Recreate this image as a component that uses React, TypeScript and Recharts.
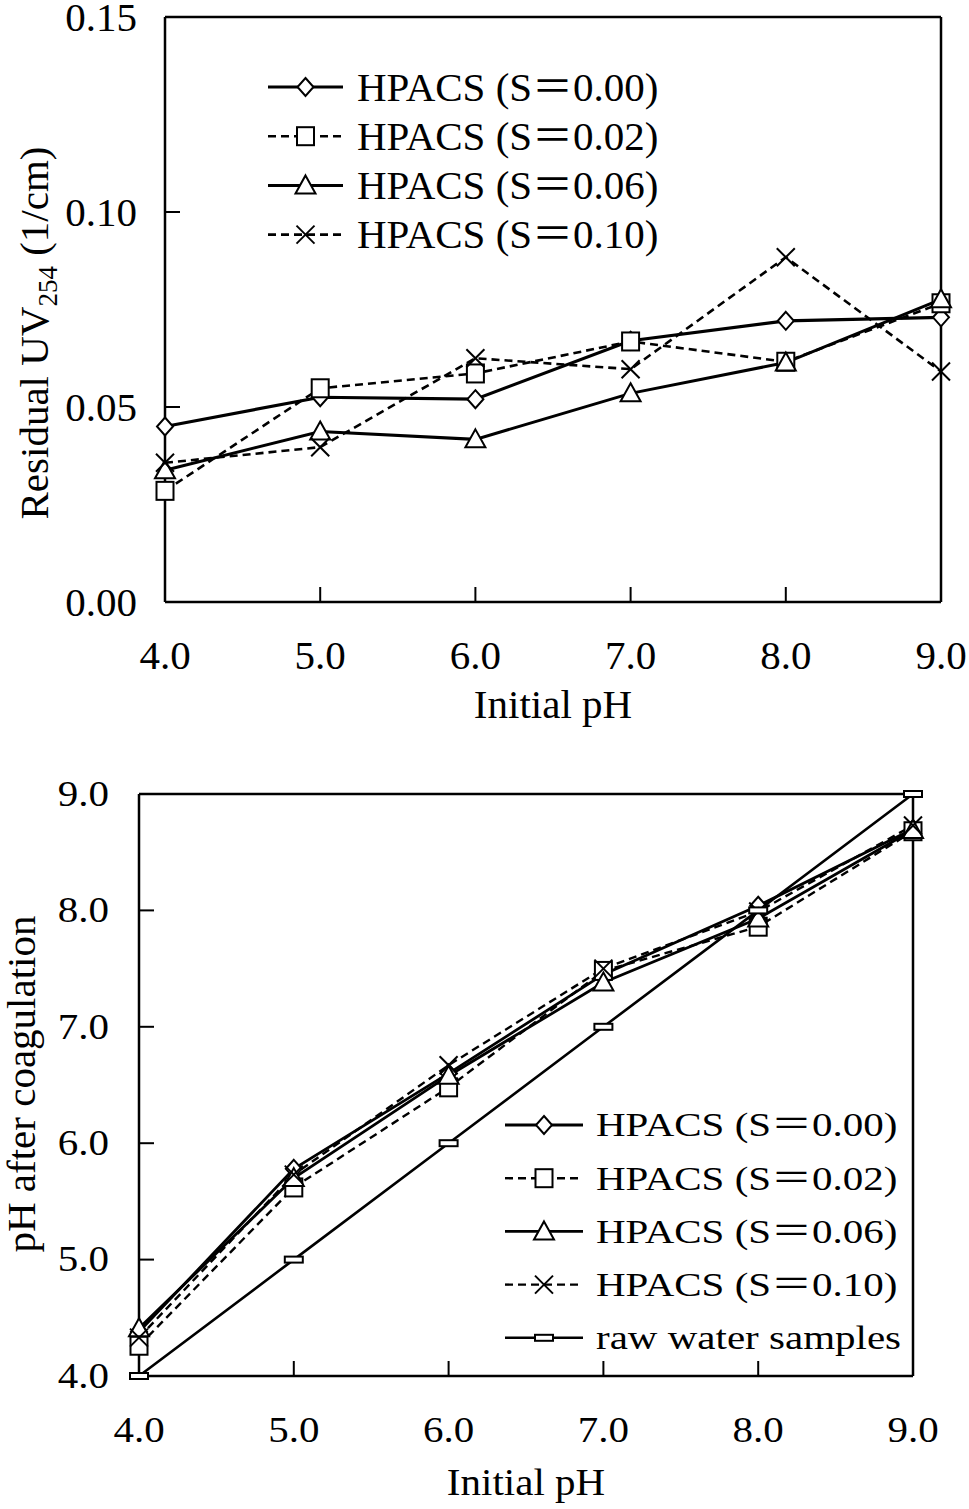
import React from "react";
import {
  LineChart,
  Line,
  XAxis,
  YAxis,
  Legend,
  ReferenceLine,
  Label,
} from "recharts";

const FONT = "'Liberation Serif', 'Times New Roman', 'Noto Sans CJK SC', serif";

// x axis of both panels
const initialPh = [4.0, 5.0, 6.0, 7.0, 8.0, 9.0];
const uvTicks = [0, 0.05, 0.1, 0.15];
const phAfterTicks = [4.0, 5.0, 6.0, 7.0, 8.0, 9.0];

const seriesNames = [
  "HPACS (S＝0.00)",
  "HPACS (S＝0.02)",
  "HPACS (S＝0.06)",
  "HPACS (S＝0.10)",
  "raw water samples",
];

// top panel: residual UV254 (1/cm)
const uvS000 = [0.045, 0.0525, 0.052, 0.067, 0.0721, 0.073];
const uvS002 = [0.0285, 0.0548, 0.0586, 0.0668, 0.0616, 0.0766];
const uvS006 = [0.0338, 0.0437, 0.0417, 0.0535, 0.0614, 0.0776];
const uvS010 = [0.0357, 0.0397, 0.0625, 0.0597, 0.0884, 0.0591];

// bottom panel: pH after coagulation
const phS000 = [4.38, 5.78, 6.6, 7.45, 8.04, 8.7];
const phS002 = [4.26, 5.62, 6.48, 7.48, 7.86, 8.68];
const phS006 = [4.41, 5.7, 6.58, 7.38, 7.93, 8.69];
const phS010 = [4.33, 5.73, 6.67, 7.5, 7.99, 8.73];
const phRaw = [4.0, 5.0, 6.0, 7.0, 8.0, 9.0];

const uvRows = initialPh.map((ph, i) => ({
  ph,
  s000: uvS000[i],
  s002: uvS002[i],
  s006: uvS006[i],
  s010: uvS010[i],
}));

const phRows = initialPh.map((ph, i) => ({
  ph,
  s000: phS000[i],
  s002: phS002[i],
  s006: phS006[i],
  s010: phS010[i],
  raw: phRaw[i],
}));

type Kind = "diamond" | "square" | "triangle" | "cross" | "bar";

type SeriesStyle = {
  key: string;
  name: string;
  marker: Kind;
  dash?: string;
  width: number;
};

const topSeries: SeriesStyle[] = [
  { key: "s000", name: seriesNames[0], marker: "diamond", width: 3.2 },
  { key: "s002", name: seriesNames[1], marker: "square", dash: "8 5", width: 2.6 },
  { key: "s006", name: seriesNames[2], marker: "triangle", width: 3 },
  { key: "s010", name: seriesNames[3], marker: "cross", dash: "8 5", width: 2.6 },
];

const bottomSeries: SeriesStyle[] = [
  { key: "s000", name: seriesNames[0], marker: "diamond", width: 2.8 },
  { key: "s002", name: seriesNames[1], marker: "square", dash: "8 5", width: 2.4 },
  { key: "s006", name: seriesNames[2], marker: "triangle", width: 2.8 },
  { key: "s010", name: seriesNames[3], marker: "cross", dash: "8 5", width: 2.4 },
  { key: "raw", name: seriesNames[4], marker: "bar", width: 2.6 },
];

function Marker({ kind, cx, cy }: { kind: Kind; cx?: number; cy?: number }) {
  if (cx == null || cy == null) return null;
  const st = { fill: "#fff", stroke: "#000", strokeWidth: 2 };
  switch (kind) {
    case "diamond":
      return (
        <polygon
          points={`${cx},${cy - 9} ${cx + 8},${cy} ${cx},${cy + 9} ${cx - 8},${cy}`}
          {...st}
        />
      );
    case "square":
      return <rect x={cx - 8.5} y={cy - 9} width={17} height={18} {...st} />;
    case "triangle":
      return (
        <polygon
          points={`${cx},${cy - 10} ${cx + 10},${cy + 8} ${cx - 10},${cy + 8}`}
          {...st}
        />
      );
    case "cross":
      return (
        <g stroke="#000" strokeWidth={2}>
          <line x1={cx - 9} y1={cy - 9} x2={cx + 9} y2={cy + 9} />
          <line x1={cx - 9} y1={cy + 9} x2={cx + 9} y2={cy - 9} />
        </g>
      );
    default:
      return <rect x={cx - 9} y={cy - 3} width={18} height={6} {...st} />;
  }
}

function LegendRows({
  rows,
  top,
  rowH,
  lineX1,
  lineX2,
  textX,
  size,
  sy,
}: {
  rows: SeriesStyle[];
  top: number;
  rowH: number;
  lineX1: number;
  lineX2: number;
  textX: number;
  size: number;
  sy: number;
}) {
  const mx = (lineX1 + lineX2) / 2;
  return (
    <svg
      width={440}
      height={top + rowH * rows.length}
      style={{ display: "block", overflow: "visible" }}
    >
      {rows.map((r, i) => {
        const y = top + i * rowH;
        return (
          <g key={r.key}>
            <line
              x1={lineX1}
              x2={lineX2}
              y1={y}
              y2={y}
              stroke="#000"
              strokeWidth={r.width}
              strokeDasharray={r.dash}
            />
            <Marker kind={r.marker} cx={mx} cy={y} />
            <text
              transform={`translate(${textX},${y + 0.33 * size * sy}) scale(1,${sy})`}
              fontSize={size}
              fontFamily={FONT}
              fill="#000"
            >
              {r.name}
            </text>
          </g>
        );
      })}
    </svg>
  );
}

function makeXTick(size: number, sy: number) {
  return (p: any) => (
    <text
      transform={`translate(${p.x},${p.y + 0.7 * size * sy}) scale(1,${sy})`}
      textAnchor="middle"
      fontSize={size}
      fontFamily={FONT}
      fill="#000"
    >
      {Number(p.payload.value).toFixed(1)}
    </text>
  );
}

function makeYTick(size: number, sy: number, digits: number) {
  return (p: any) => (
    <text
      transform={`translate(${p.x},${p.y + 0.34 * size * sy}) scale(1,${sy})`}
      textAnchor="end"
      fontSize={size}
      fontFamily={FONT}
      fill="#000"
    >
      {Number(p.payload.value).toFixed(digits)}
    </text>
  );
}

const axisLine = { stroke: "#000", strokeWidth: 2.5 };
const tickLine = { stroke: "#000", strokeWidth: 2 };

function UvPanel() {
  return (
    <LineChart
      width={969}
      height={740}
      data={uvRows}
      margin={{ top: 17, right: 28, bottom: 137, left: 164 }}
    >
      <XAxis
        dataKey="ph"
        type="number"
        domain={[4, 9]}
        ticks={initialPh}
        interval={0}
        height={1}
        axisLine={axisLine}
        tickLine={tickLine}
        tickSize={-15}
        tickMargin={53}
        tick={makeXTick(41, 1)}
      >
        <Label
          content={() => (
            <text x={553} y={718} textAnchor="middle" fontSize={41} fontFamily={FONT} fill="#000">
              Initial pH
            </text>
          )}
        />
      </XAxis>
      <YAxis
        type="number"
        domain={[0, 0.15]}
        ticks={uvTicks}
        interval={0}
        width={1}
        axisLine={axisLine}
        tickLine={tickLine}
        tickSize={-15}
        tickMargin={43}
        tick={makeYTick(41, 1, 2)}
      >
        <Label
          content={() => (
            <text
              transform="rotate(-90)"
              x={-333}
              y={48}
              textAnchor="middle"
              fontSize={41}
              fontFamily={FONT}
              fill="#000"
            >
              <tspan>Residual UV</tspan>
              <tspan fontSize={27} dy={9}>254</tspan>
              <tspan dy={-9}>{" (1/cm)"}</tspan>
            </text>
          )}
        />
      </YAxis>
      <ReferenceLine y={0.15} stroke="#000" strokeWidth={2.5} />
      <ReferenceLine x={9} stroke="#000" strokeWidth={2.5} />
      <Legend
        layout="vertical"
        align="center"
        verticalAlign="middle"
        wrapperStyle={{ left: 262, top: 60, width: 440, height: 230 }}
        content={() => (
          <LegendRows
            rows={topSeries}
            top={27}
            rowH={49.2}
            lineX1={6}
            lineX2={81}
            textX={95}
            size={41}
            sy={1}
          />
        )}
      />
      {topSeries.map((s) => (
        <Line
          key={s.key}
          dataKey={s.key}
          name={s.name}
          type="linear"
          stroke="#000"
          strokeWidth={s.width}
          strokeDasharray={s.dash}
          dot={(p: any) => <Marker key={`${s.key}-${p.index}`} kind={s.marker} cx={p.cx} cy={p.cy} />}
          activeDot={false}
          isAnimationActive={false}
        />
      ))}
    </LineChart>
  );
}

function PhPanel() {
  return (
    <LineChart
      width={969}
      height={769}
      data={phRows}
      margin={{ top: 54, right: 56, bottom: 132, left: 138 }}
    >
      <XAxis
        dataKey="ph"
        type="number"
        domain={[4, 9]}
        ticks={initialPh}
        interval={0}
        height={1}
        axisLine={axisLine}
        tickLine={tickLine}
        tickSize={-15}
        tickMargin={57}
        tick={makeXTick(41, 0.85)}
      >
        <Label
          content={() => (
            <text
              transform="translate(526,755) scale(1,0.9)"
              textAnchor="middle"
              fontSize={41}
              fontFamily={FONT}
              fill="#000"
            >
              Initial pH
            </text>
          )}
        />
      </XAxis>
      <YAxis
        type="number"
        domain={[4, 9]}
        ticks={phAfterTicks}
        interval={0}
        width={1}
        axisLine={axisLine}
        tickLine={tickLine}
        tickSize={-15}
        tickMargin={45}
        tick={makeYTick(41, 0.85, 1)}
      >
        <Label
          content={() => (
            <text
              transform="rotate(-90)"
              x={-344}
              y={35}
              textAnchor="middle"
              fontSize={41}
              fontFamily={FONT}
              fill="#000"
            >
              pH after coagulation
            </text>
          )}
        />
      </YAxis>
      <ReferenceLine y={9} stroke="#000" strokeWidth={2.5} />
      <ReferenceLine x={9} stroke="#000" strokeWidth={2.5} />
      <Legend
        layout="vertical"
        align="center"
        verticalAlign="middle"
        wrapperStyle={{ left: 500, top: 350, width: 440, height: 280 }}
        content={() => (
          <LegendRows
            rows={bottomSeries}
            top={35}
            rowH={53.2}
            lineX1={5}
            lineX2={83}
            textX={96}
            size={41}
            sy={0.84}
          />
        )}
      />
      {bottomSeries.map((s) => (
        <Line
          key={s.key}
          dataKey={s.key}
          name={s.name}
          type="linear"
          stroke="#000"
          strokeWidth={s.width}
          strokeDasharray={s.dash}
          dot={(p: any) => <Marker key={`${s.key}-${p.index}`} kind={s.marker} cx={p.cx} cy={p.cy} />}
          activeDot={false}
          isAnimationActive={false}
        />
      ))}
    </LineChart>
  );
}

export default function App() {
  return (
    <div
      style={{
        position: "absolute",
        left: 0,
        top: 0,
        width: 969,
        height: 1509,
        background: "#fff",
        fontFamily: FONT,
      }}
    >
      <div style={{ position: "absolute", left: 0, top: 0 }}>
        <UvPanel />
      </div>
      <div style={{ position: "absolute", left: 0, top: 740 }}>
        <PhPanel />
      </div>
    </div>
  );
}
